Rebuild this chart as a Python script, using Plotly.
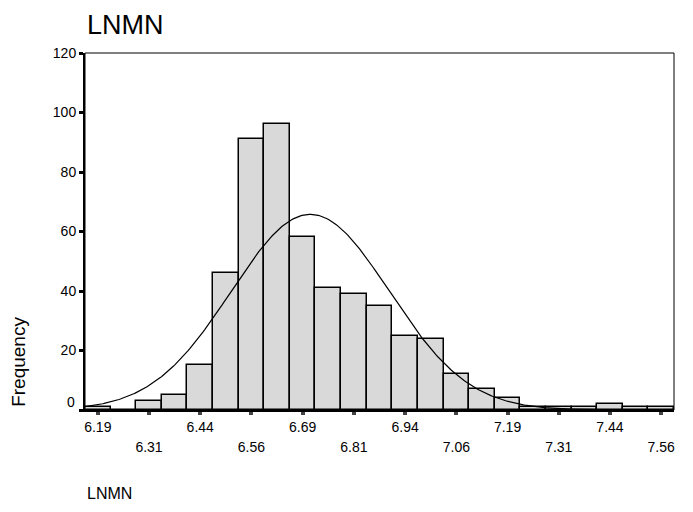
import numpy as np
import plotly.graph_objects as go

# ---- data ----
bin_centers = [6.1875, 6.25, 6.3125, 6.375, 6.4375, 6.5, 6.5625, 6.625, 6.6875, 6.75,
               6.8125, 6.875, 6.9375, 7.0, 7.0625, 7.125, 7.1875, 7.25, 7.3125, 7.375,
               7.4375, 7.5, 7.5625]
counts = [1, 0, 3, 5, 15, 46, 91, 96, 58, 41, 39, 35, 25, 24, 12, 7, 4, 1, 1, 1, 2, 1, 1]
bin_width = 0.0625

tick_vals = [6.1875, 6.3125, 6.4375, 6.5625, 6.6875, 6.8125, 6.9375, 7.0625,
             7.1875, 7.3125, 7.4375, 7.5625]
tick_labels = ["6.19", "6.31", "6.44", "6.56", "6.69", "6.81", "6.94", "7.06",
               "7.19", "7.31", "7.44", "7.56"]
y_ticks = [0, 20, 40, 60, 80, 100, 120]

curve_mean = 6.706
curve_sd = 0.193

title_text = "LNMN"
x_title = "LNMN"
y_title = "Frequency"

# ---- figure ----
FONT = "Arial, Liberation Sans, sans-serif"
x_lo = bin_centers[0] - bin_width / 2
x_hi = bin_centers[-1] + bin_width / 2
n_total = sum(counts)

xs = np.linspace(x_lo, x_hi, 400)
ys = n_total * bin_width / (curve_sd * np.sqrt(2 * np.pi)) * np.exp(-0.5 * ((xs - curve_mean) / curve_sd) ** 2)

fig = go.Figure()
fig.add_trace(go.Bar(
    x=bin_centers, y=counts, width=bin_width,
    marker=dict(color="#d9d9d9", line=dict(color="black", width=1.5)),
    showlegend=False, hoverinfo="x+y",
))
fig.add_trace(go.Scatter(
    x=xs, y=ys, mode="lines", line=dict(color="black", width=1.2),
    showlegend=False, hoverinfo="skip", xaxis="x2",
))

row1_text = [t if i % 2 == 0 else "" for i, t in enumerate(tick_labels)]
row2_vals = tick_vals[1::2]
row2_text = tick_labels[1::2]

TICKFONT = dict(family=FONT, size=14, color="black")

fig.update_layout(
    width=693, height=512,
    margin=dict(l=77, r=27, t=45, b=110),
    paper_bgcolor="white", plot_bgcolor="white",
    bargap=0,
    font=dict(family=FONT, size=14, color="black"),
    xaxis=dict(
        range=[x_lo, x_hi], showgrid=False, zeroline=False,
        showline=True, linecolor="black", linewidth=2,
        ticks="outside", ticklen=3, tickwidth=4, tickcolor="#444",
        tickvals=tick_vals, ticktext=row1_text,
        tickfont=TICKFONT, ticklabelstandoff=0,
    ),
    xaxis2=dict(
        matches="x", overlaying="x", side="bottom", anchor="y",
        showgrid=False, zeroline=False, showline=False, ticks="",
        tickvals=row2_vals, ticktext=row2_text,
        tickfont=TICKFONT, ticklabelstandoff=27,
    ),
    yaxis=dict(
        range=[0, 120], showgrid=False, zeroline=False,
        showline=True, linecolor="black", linewidth=2,
        ticks="outside", ticklen=4, tickwidth=3, tickcolor="black",
        tickvals=y_ticks, ticktext=[("" if v == 0 else str(v)) for v in y_ticks],
        tickfont=TICKFONT,
    ),
    shapes=[dict(type="rect", xref="paper", yref="paper", x0=0, x1=1, y0=0, y1=1,
                 line=dict(color="black", width=1), layer="above")],
    annotations=[
        dict(text=title_text, xref="paper", yref="paper", x=0, y=1.126,
             xanchor="left", yanchor="top", showarrow=False,
             font=dict(family=FONT, size=27, color="black")),
        dict(text="0", xref="paper", yref="y", x=0, y=0, xanchor="right", yanchor="middle",
             xshift=-8, yshift=8, showarrow=False, font=TICKFONT),
        dict(text=y_title, xref="paper", yref="paper", x=-0.112, y=0.135, textangle=-90,
             xanchor="center", yanchor="middle", showarrow=False,
             font=dict(family=FONT, size=19, color="black")),
        dict(text=x_title, xref="paper", yref="paper", x=0, y=-0.235, xanchor="left",
             yanchor="middle", showarrow=False,
             font=dict(family=FONT, size=16, color="black")),
    ],
)

fig.write_html("out.html")
